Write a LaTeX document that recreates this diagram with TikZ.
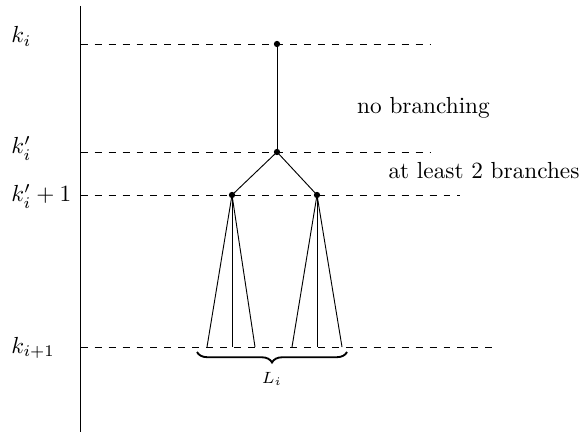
\documentclass[tikz,border=0pt]{standalone}
\usetikzlibrary{decorations.pathreplacing}

\begin{document}
\begin{tikzpicture}[x=0.43pt, y=-0.43pt, line cap=butt,
    dot/.style={circle, fill, inner sep=0pt, minimum size=2.7pt},
    level/.style={dashed},
    lab/.style={anchor=base west, inner sep=0pt}]

  %% ==== axis and levels ====
  \draw (80.7,6) -- (80.7,432);
  \coordinate (a0) at (80.7,44);
  \coordinate (a1) at (80.7,152);
  \coordinate (a2) at (80.7,195);
  \coordinate (a3) at (80.7,347);
  \draw[level] (a0) -- (430,44);
  \draw[level] (a1) -- (431,152);
  \draw[level] (a2) -- (460,195);
  \draw[level] (a3) -- (497,347);

  %% ==== level labels ====
  \node[lab] (ki)   at (11,43)  {$k_i$};
  \node[lab] (kpi)  at (11,154) {$k_i'$};
  \node[lab] (kpi1) at (11,202) {$k_i'+1$};
  \node[lab] (kii)  at (11,353) {$k_{i+1}$};

  %% ==== tree ====
  \node[dot] (root)  at (277,44)  {};
  \node[dot] (split) at (277,152) {};
  \node[dot] (bl)    at (232,195) {};
  \node[dot] (br)    at (317,195) {};
  \draw (root.center) -- (split.center);
  \draw (split.center) -- (bl.center);
  \draw (split.center) -- (br.center);

  % leaves on level k_{i+1}
  \coordinate (l1) at (207,347);
  \coordinate (l2) at (232,347);
  \coordinate (l3) at (255,347);
  \coordinate (r1) at (292,347);
  \coordinate (r2) at (317,347);
  \coordinate (r3) at (342,347);
  \foreach \t in {l1,l2,l3} \draw (bl.center) -- (\t);
  \foreach \t in {r1,r2,r3} \draw (br.center) -- (\t);

  %% ==== brace ====
  \draw[thick, decorate, decoration={brace, mirror, amplitude=4.5pt}]
    (197,352) -- node[below=5pt, font=\scriptsize] (Li) {$L_i$} (347,352);

  %% ==== notes ====
  \node[anchor=base, inner sep=0pt] (nob) at (423.5,114) {no branching};
  \node[anchor=base, inner sep=0pt] (two) at (484,179) {at least 2 branches};

  \pgfresetboundingbox
  \path[use as bounding box] (0,0) rectangle (580,432);
\end{tikzpicture}
\end{document}
